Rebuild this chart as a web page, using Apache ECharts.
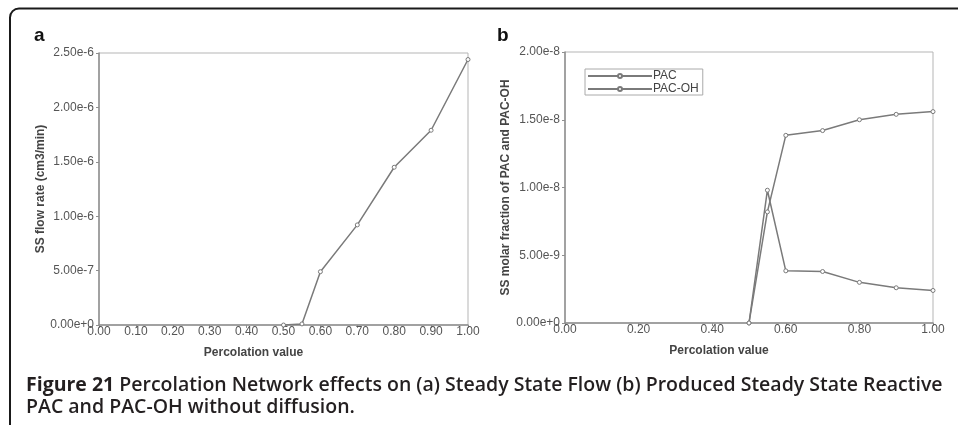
<!DOCTYPE html>
<html>
<head>
<meta charset="utf-8">
<script src="https://cdn.jsdelivr.net/npm/echarts@6/dist/echarts.min.js"></script>
<style>
  html, body { margin: 0; padding: 0; background: #fff; }
  #chart { width: 958px; height: 425px; }
</style>
</head>
<body>
<div id="chart"></div>
<script>
// Panel a: steady-state flow vs percolation value
const flowX = [0.50, 0.55, 0.60, 0.70, 0.80, 0.90, 1.00];
const flowY = [0, 0.01e-6, 0.49e-6, 0.92e-6, 1.45e-6, 1.79e-6, 2.44e-6];

// Panel b: steady-state molar fractions
const pacX = [0.50, 0.55, 0.60, 0.70, 0.80, 0.90, 1.00];
const pacY = [0, 9.8e-9, 3.85e-9, 3.8e-9, 3.0e-9, 2.6e-9, 2.4e-9];
const pacOhX = [0.50, 0.55, 0.60, 0.70, 0.80, 0.90, 1.00];
const pacOhY = [0, 8.2e-9, 1.385e-8, 1.42e-8, 1.50e-8, 1.54e-8, 1.56e-8];

const seriesNames = ['PAC', 'PAC-OH'];
const panelLabels = ['a', 'b'];
const xName = 'Percolation value';
const yNames = ['SS flow rate (cm3/min)', 'SS molar fraction of PAC and PAC-OH'];
const captionBold = 'Figure 21';
const captionLine1 = ' Percolation Network effects on (a) Steady State Flow (b) Produced Steady State Reactive';
const captionLine2 = 'PAC and PAC-OH without diffusion.';

const pairs = (xs, ys) => xs.map((x, i) => [x, ys[i]]);

const LINE = '#7a7a7a';
const AXIS = '#8f8f8f';
const FONT = 'Liberation Sans, Arial, sans-serif';

function xAxisCfg(gridIndex, interval) {
  return {
    type: 'value', gridIndex, min: 0, max: 1, interval,
    name: xName, nameLocation: 'middle', nameGap: 22,
    nameTextStyle: { fontFamily: FONT, fontSize: 12, fontWeight: 'bold', color: '#444', padding: [0, 60, 0, 0] },
    axisLine: { show: true, lineStyle: { color: AXIS, width: 1.5 } },
    axisTick: { show: true, length: 3, lineStyle: { color: AXIS } },
    axisLabel: { fontFamily: FONT, fontSize: 12, color: '#555', margin: 1, formatter: v => v.toFixed(2) },
    splitLine: { show: false }
  };
}
function yAxisCfg(gridIndex, max, interval, name, gap) {
  return {
    type: 'value', gridIndex, min: 0, max, interval,
    name, nameLocation: 'middle', nameGap: gap,
    nameTextStyle: { fontFamily: FONT, fontSize: 12, fontWeight: 'bold', color: '#444' },
    axisLine: { show: true, lineStyle: { color: AXIS, width: 1.5 } },
    axisTick: { show: true, length: 3, lineStyle: { color: AXIS } },
    axisLabel: { fontFamily: FONT, fontSize: 12, color: '#555', margin: 5, formatter: v => v.toExponential(2) },
    splitLine: { show: false }
  };
}
function lineSeries(name, data, xi, yi) {
  return {
    type: 'line', name, data, xAxisIndex: xi, yAxisIndex: yi,
    symbol: 'circle', symbolSize: 4, showSymbol: true,
    lineStyle: { color: LINE, width: 1.5 },
    itemStyle: { color: '#fff', borderColor: LINE, borderWidth: 1 },
    animation: false
  };
}

const chart = echarts.init(document.getElementById('chart'), null, { renderer: 'canvas' });
chart.setOption({
  backgroundColor: '#fff',
  animation: false,
  grid: [
    { left: 99, top: 53, width: 369, height: 272, show: true, borderColor: '#b5b5b5', borderWidth: 1 },
    { left: 565, top: 52, width: 368, height: 271, show: true, borderColor: '#b5b5b5', borderWidth: 1 }
  ],
  xAxis: [xAxisCfg(0, 0.1), xAxisCfg(1, 0.2)],
  yAxis: [yAxisCfg(0, 2.5e-6, 0.5e-6, yNames[0], 47), yAxisCfg(1, 2e-8, 0.5e-8, yNames[1], 53)],
  legend: {
    data: seriesNames,
    orient: 'vertical', left: 585, top: 69,
    itemWidth: 64, itemHeight: 5, itemGap: 1,
    padding: [1, 4, 0, 2],
    borderColor: '#aaa', borderWidth: 1,
    textStyle: { fontFamily: FONT, fontSize: 12, lineHeight: 12, color: '#444', padding: [0, 0, 0, -4] }
  },
  series: [
    lineSeries('flow', pairs(flowX, flowY), 0, 0),
    lineSeries(seriesNames[0], pairs(pacX, pacY), 1, 1),
    lineSeries(seriesNames[1], pairs(pacOhX, pacOhY), 1, 1)
  ],
  graphic: [
    { type: 'rect', shape: { x: 10, y: 8.5, width: 980, height: 440, r: [9, 0, 0, 0] },
      style: { fill: 'none', stroke: '#1a1a1a', lineWidth: 2 }, silent: true },
    { type: 'text', left: 34, top: 26, style: { text: panelLabels[0], font: 'bold 19px ' + FONT, fill: '#111' } },
    { type: 'text', left: 497, top: 26, style: { text: panelLabels[1], font: 'bold 19px ' + FONT, fill: '#111' } },
    { type: 'text', left: 26, top: 375, style: {
        text: '{b|' + captionBold + '}{r|' + captionLine1 + '}\n{r|' + captionLine2 + '}',
        rich: {
          b: { fontFamily: 'Open Sans', fontSize: 19.5, fontWeight: 'bold', fill: '#231f20', lineHeight: 22 },
          r: { fontFamily: 'Open Sans', fontSize: 19.5, fontWeight: 600, fill: '#231f20', lineHeight: 22 }
        }
      } }
  ]
});
</script>
</body>
</html>
